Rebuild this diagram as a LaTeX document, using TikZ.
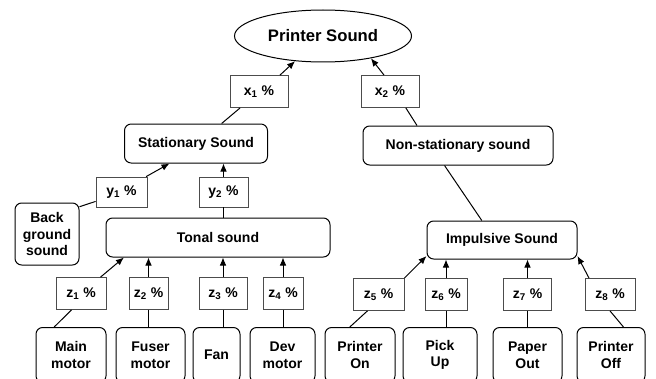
\documentclass[tikz,border=0pt]{standalone}
\usepackage{fontspec}
\setmainfont{Liberation Sans}
\usetikzlibrary{shapes.geometric}
\usetikzlibrary{arrows.meta}
\newcommand*{\pht }{32*0.75pt}
\newcommand*{\sht }{39*0.75pt}
\newcommand*{\bht }{55*0.75pt}
\newcommand*{\pct}[2]{#1\textsubscript{#2} \%}
\tikzset{
    sound/.style = {draw, rounded corners=5pt, align=center, inner sep=0pt, line width=0.75pt,
                    font=\fontsize{10.5}{12.5}\selectfont\bfseries},
    share/.style = {draw=black!70, inner sep=0pt, line width=0.6pt, minimum height=\pht,
                    font=\fontsize{10.5}{12.5}\selectfont\bfseries},
    link/.style  = {line width=0.75pt},
    feed/.style  = {line width=0.75pt, -{Latex[length=6pt,width=5pt]}}
}

\begin{document}
\begin{tikzpicture}[x=0.75pt, y=-0.75pt]
        \useasboundingbox (0,0) rectangle (656,378);
        \node [draw, ellipse, line width=0.75pt, minimum width=177*0.75pt, minimum height=52*0.75pt, inner sep=0pt,
               font=\fontsize{12.5}{15}\selectfont\bfseries] (root) at (323,36) {Printer Sound};
        \node [share, minimum width=58*0.75pt] (x1) at (259,91.5) {\pct{x}{1}};
        \node [share, minimum width=58*0.75pt] (x2) at (390,91.5) {\pct{x}{2}};
        \node [sound, minimum width=143*0.75pt, minimum height=\sht] (stat) at (196,143.5) {Stationary Sound};
        \node [sound, minimum width=190*0.75pt, minimum height=\sht] (nonstat) at (458,145.5) {Non-stationary sound};
        \node [share, minimum width=51*0.75pt, minimum height=30*0.75pt] (y1) at (121.5,192) {\pct{y}{1}};
        \node [share, minimum width=49*0.75pt, minimum height=30*0.75pt] (y2) at (223.5,192) {\pct{y}{2}};
        \node [sound, minimum width=64*0.75pt, minimum height=62*0.75pt] (back) at (47,234) {Back\\ground\\sound};
        \node [sound, minimum width=224*0.75pt, minimum height=\sht] (tonal) at (218,237.5) {Tonal sound};
        \node [sound, minimum width=150*0.75pt, minimum height=38*0.75pt] (impul) at (502,240) {Impulsive Sound};
        % percentages of the sources
        \node [share, minimum width=50*0.75pt] (z1) at (81,293.5)    {\pct{z}{1}};
        \node [share, minimum width=39*0.75pt] (z2) at (148.5,293.5) {\pct{z}{2}};
        \node [share, minimum width=48*0.75pt] (z3) at (223,293.5)   {\pct{z}{3}};
        \node [share, minimum width=40*0.75pt] (z4) at (283,293.5)   {\pct{z}{4}};
        \node [share, minimum width=51*0.75pt] (z5) at (378.5,294.5) {\pct{z}{5}};
        \node [share, minimum width=42*0.75pt] (z6) at (446,294.5)   {\pct{z}{6}};
        \node [share, minimum width=48*0.75pt] (z7) at (527.5,294.5) {\pct{z}{7}};
        \node [share, minimum width=50*0.75pt] (z8) at (610,294.5)   {\pct{z}{8}};
        % sources
        \node [sound, minimum width=70*0.75pt, minimum height=\bht] (main)  at (71,355)    {Main\\motor};
        \node [sound, minimum width=69*0.75pt, minimum height=\bht] (fuser) at (150.5,355) {Fuser\\motor};
        \node [sound, minimum width=47*0.75pt, minimum height=\bht] (fan)   at (216.5,355) {Fan};
        \node [sound, minimum width=65*0.75pt, minimum height=\bht] (dev)   at (282.5,355) {Dev\\motor};
        \node [sound, minimum width=70*0.75pt, minimum height=\bht] (pon)   at (360,355)   {Printer\\On};
        \node [sound, minimum width=74*0.75pt, minimum height=\bht] (pick)  at (440,355)   {Pick\\Up};
        \node [sound, minimum width=69*0.75pt, minimum height=\bht] (paper) at (527.5,355) {Paper\\Out};
        \node [sound, minimum width=68*0.75pt, minimum height=\bht] (poff)  at (611,355)   {Printer\\Off};

        \draw [feed] (x1.38) -- (root.222);
        \draw [link] (x1.221) -- (stat.38);
        \draw [feed] (x2.110) -- (root.335);
        \draw [link] (x2.314) -- (nonstat.154);
        \draw [link] (nonstat.236) -- (impul.136);
        \draw [feed] (y1.32) -- (stat.217);
        \draw [feed] (y2.north) -- (y2.north |- stat.south);
        \draw [link] (back.40) -- (y1.200);
        \draw [link] (y2.south) -- (y2.south |- tonal.north);
        \draw [feed] (z1.40) -- (tonal.192);
        \draw [link] (z1.240) -- (main.121);
        \foreach \z/\s in {z2/fuser, z3/fan, z4/dev} {
            \draw [feed] (\z.north) -- (\z.north |- tonal.south);
            \draw [link] (\z.south) -- (\z.south |- \s.north);
        }
        \draw [feed] (z5.north east) -- (impul.192);
        \draw [link] (z5.236) -- (pon.110);
        \foreach \z/\s in {z6/pick, z7/paper} {
            \draw [feed] (\z.north) -- (\z.north |- impul.south);
            \draw [link] (\z.south) -- (\z.south |- \s.north);
        }
        \draw [feed] (z8.142) -- (impul.348);
        \draw [link] (z8.south) -- (poff.66);
    \end{tikzpicture}
\end{document}
